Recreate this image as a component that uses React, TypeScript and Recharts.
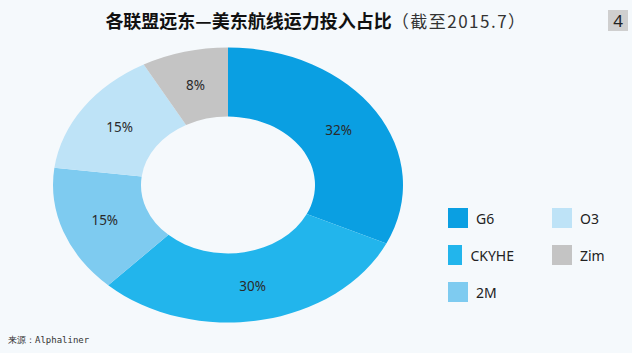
import { Legend, Pie, PieChart, Sector } from "recharts";

const alliances = ["G6", "CKYHE", "2M", "O3", "Zim"];
const shares = [32, 30, 15, 15, 8];
const colors = ["#0a9fe2", "#22b5ec", "#7ecbf0", "#bee3f7", "#c4c4c4"];

const data = alliances.map((name, i) => ({ name, value: shares[i], fill: colors[i] }));

const W = 632;
const H = 353;
const CX = 228;
const CY = 185;
const SQUASH = 0.786; // the donut is drawn as an ellipse
const RAD = Math.PI / 180;

function EllipseSlice(p: any) {
  return (
    <g transform={`translate(0 ${p.cy}) scale(1 ${SQUASH}) translate(0 ${-p.cy})`}>
      <Sector
        cx={p.cx}
        cy={p.cy}
        innerRadius={p.innerRadius}
        outerRadius={p.outerRadius}
        startAngle={p.startAngle}
        endAngle={p.endAngle}
        fill={p.fill}
        stroke="none"
      />
    </g>
  );
}

function SliceLabel(p: any) {
  const r = (p.innerRadius + p.outerRadius) / 2;
  const x = p.cx + r * Math.cos(-p.midAngle * RAD);
  const y = p.cy + r * SQUASH * Math.sin(-p.midAngle * RAD);
  return (
    <text x={x} y={y} textAnchor="middle" dominantBaseline="central" fontSize={13.5} fill="#2a2a2a" fontFamily="Noto Sans">
      {p.value}%
    </text>
  );
}

// legend follows the data order (column-wise), not the payload order
function LegendBox() {
  const cols = [data.slice(0, 3), data.slice(3)];
  return (
    <div style={{ display: "flex", gap: 38, fontFamily: "Noto Sans", fontSize: 14, color: "#222" }}>
      {cols.map((col, ci) => (
        <div key={ci} style={{ display: "flex", flexDirection: "column", gap: 17 }}>
          {col.map((it) => (
            <div key={it.name} style={{ display: "flex", alignItems: "center", height: 20, width: 66 }}>
              <span style={{ width: 20, height: 20, background: it.fill, marginRight: 8, display: "inline-block" }} />
              {it.name}
            </div>
          ))}
        </div>
      ))}
    </div>
  );
}

export default function App() {
  return (
    <div style={{ position: "absolute", left: 0, top: 0, width: W, height: H, background: "#f5f9fc", overflow: "hidden" }}>
      <div
        style={{
          position: "absolute",
          top: 7,
          left: 0,
          width: W,
          textAlign: "center",
          fontFamily: "Noto Sans CJK SC",
          fontSize: 18,
          color: "#111",
          whiteSpace: "nowrap",
        }}
      >
        <b>各联盟远东—美东航线运力投入占比</b>
        <span style={{ fontSize: 17, color: "#333", letterSpacing: 1.5 }}>（截至2015.7）</span>
      </div>
      <div
        style={{
          position: "absolute",
          left: 608,
          top: 10,
          width: 20,
          height: 21,
          background: "#cfcfcf",
          color: "#222",
          fontFamily: "Noto Sans",
          fontSize: 17,
          lineHeight: "21px",
          textAlign: "center",
        }}
      >
        4
      </div>
      <PieChart
        width={W}
        height={H}
        margin={{ top: 0, right: 0, bottom: 0, left: 0 }}
        style={{ position: "absolute", left: 0, top: 0 }}
      >
        <Pie
          data={data}
          dataKey="value"
          nameKey="name"
          cx={CX}
          cy={CY}
          innerRadius={87}
          outerRadius={175}
          startAngle={90}
          endAngle={-270}
          stroke="none"
          shape={EllipseSlice}
          label={SliceLabel}
          labelLine={false}
          isAnimationActive={false}
        />
        <Legend
          content={LegendBox}
          layout="vertical"
          wrapperStyle={{ position: "absolute", left: 448, top: 208, width: 170 }}
        />
      </PieChart>
      <div
        style={{
          position: "absolute",
          left: 8,
          top: 334,
          fontFamily: "DejaVu Sans Mono",
          fontSize: 9,
          color: "#333",
          whiteSpace: "nowrap",
        }}
      >
        来源：Alphaliner
      </div>
    </div>
  );
}
